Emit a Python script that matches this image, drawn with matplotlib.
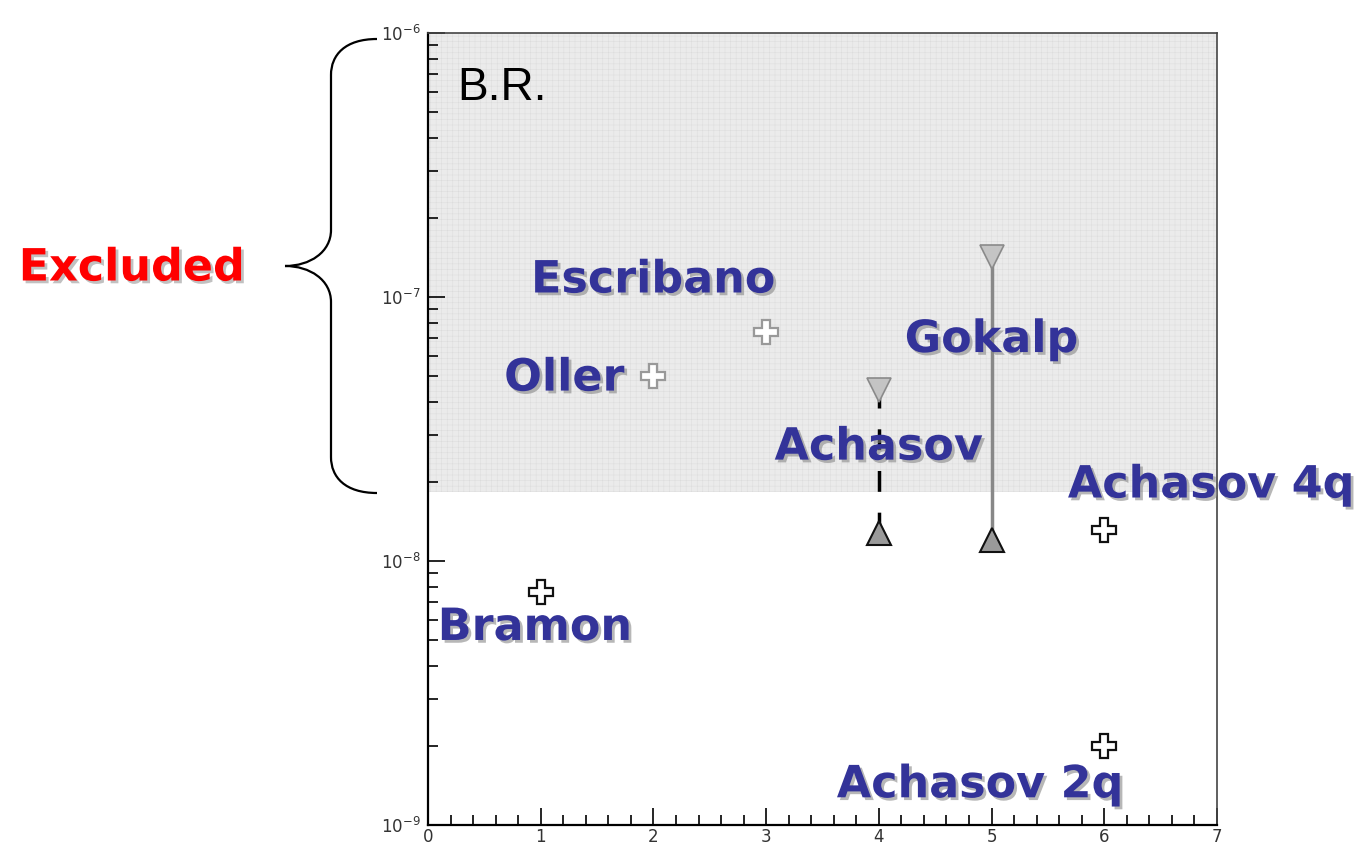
import matplotlib
matplotlib.use("Agg")
import matplotlib.pyplot as plt
import matplotlib.patheffects as pe
from matplotlib.path import Path
from matplotlib.patches import PathPatch
from matplotlib.ticker import MultipleLocator, FixedLocator, NullFormatter

# ---- data ----
point_x = [1, 2, 3, 6, 6]
point_br = [7.6e-9, 5.0e-8, 7.4e-8, 1.31e-8, 2.0e-9]
point_in_excluded = [False, True, True, False, False]

range_x = [4, 5]
range_low = [1.28e-8, 1.2e-8]
range_high = [4.45e-8, 1.42e-7]

label_text = ["Bramon", "Oller", "Escribano", "Achasov", "Gokalp", "Achasov 4q", "Achasov 2q"]
label_x = [0.95, 1.21, 2.0, 4.0, 5.0, 6.95, 4.9]
label_y = [5.6e-9, 4.93e-8, 1.16e-7, 2.7e-8, 6.9e-8, 1.94e-8, 1.42e-9]

x_ticks = [0, 1, 2, 3, 4, 5, 6, 7]
y_ticks = [1e-9, 1e-8, 1e-7, 1e-6]
y_ticklabels = [r"$10^{-9}$", r"$10^{-8}$", r"$10^{-7}$", r"$10^{-6}$"]

excluded_limit = 1.82e-8
y_min, y_max = 1e-9, 1e-6
x_min, x_max = 0, 7

plt.rcParams["hatch.linewidth"] = 0.35

W, H = 1360, 850
fig = plt.figure(figsize=(W / 100, H / 100), dpi=100)
ax = fig.add_axes([428 / W, 1 - 825 / H, (1217 - 428) / W, (825 - 33) / H])
ax.set_yscale("log")
ax.set_xlim(x_min, x_max)
ax.set_ylim(y_min, y_max)

# excluded region
ax.axhspan(excluded_limit, y_max, facecolor="#ebebeb", edgecolor="#dcdcdc",
           hatch="+++", linewidth=0, zorder=0)

# ticks
ax.set_xticks(x_ticks)
ax.set_xticklabels([str(v) for v in x_ticks])
ax.xaxis.set_minor_locator(MultipleLocator(0.2))
ax.set_yticks(y_ticks)
ax.set_yticklabels(y_ticklabels)
minor_y = [m * d for d in y_ticks[:-1] for m in range(2, 10)]
ax.yaxis.set_minor_locator(FixedLocator(minor_y))
ax.yaxis.set_minor_formatter(NullFormatter())
ax.tick_params(which="both", direction="in", top=False, right=False,
               labelsize=12, labelcolor="#333333", width=1.2)
ax.tick_params(which="major", length=12)
ax.tick_params(which="minor", length=7)
ax.xaxis.set_tick_params(pad=2)
ax.yaxis.set_tick_params(pad=5)
for s in ["left", "bottom"]:
    ax.spines[s].set_linewidth(1.6)
for s in ["top", "right"]:
    ax.spines[s].set_linewidth(1.2)
    ax.spines[s].set_color("#444444")

# range estimates
ax.plot([range_x[0]] * 2, [range_low[0], range_high[0]], color="black",
        lw=2.5, ls=(0, (6, 6)), zorder=2)
ax.plot([range_x[1]] * 2, [range_low[1], range_high[1]], color="#888888",
        lw=2.5, zorder=2)
ax.plot(range_x, range_high, ls="none", marker="v", ms=17,
        mfc="#c4c4c4", mec="#8a8a8a", mew=1.2, zorder=3)
ax.plot(range_x, range_low, ls="none", marker="^", ms=17,
        mfc="#9a9a9a", mec="#111111", mew=1.5, zorder=3)

# point estimates
for x, y, exc in zip(point_x, point_br, point_in_excluded):
    ax.plot([x], [y], ls="none", marker="P", ms=17, mfc="white",
            mec="#999999" if exc else "#111111", mew=1.6, zorder=3)

# labels
shadow = [pe.withSimplePatchShadow(offset=(2, -2), shadow_rgbFace="#888888", alpha=0.6)]
for t, x, y in zip(label_text, label_x, label_y):
    ax.text(x, y, t, ha="center", va="center", fontsize=32, fontweight="bold",
            color="#333399", family="DejaVu Sans", clip_on=False,
            path_effects=shadow, zorder=4)

ax.text(0.037, 0.93, "B.R.", transform=ax.transAxes, fontsize=33,
        color="black", va="center", ha="left", family="Liberation Sans")

fig.text(132 / W, 1 - 268 / H, "Excluded", ha="center", va="center",
         fontsize=32, fontweight="bold", color="#ff0000",
         path_effects=[pe.withSimplePatchShadow(offset=(2, -2), shadow_rgbFace="#999999", alpha=0.6)])

# brace
def P(x, y):
    return (x / W, 1 - y / H)

verts = [P(377, 39), P(345, 39), P(331, 55), P(331, 75),
         P(331, 230),
         P(331, 252), P(310, 266), P(285, 266),
         P(310, 266), P(331, 280), P(331, 302),
         P(331, 457),
         P(331, 477), P(345, 493), P(377, 493)]
codes = [Path.MOVETO, Path.CURVE4, Path.CURVE4, Path.CURVE4,
         Path.LINETO,
         Path.CURVE4, Path.CURVE4, Path.CURVE4,
         Path.CURVE4, Path.CURVE4, Path.CURVE4,
         Path.LINETO,
         Path.CURVE4, Path.CURVE4, Path.CURVE4]
fig.patches.append(PathPatch(Path(verts, codes), transform=fig.transFigure,
                             facecolor="none", edgecolor="black", lw=1.6))

fig.savefig("out.png", dpi=100, facecolor="white")
